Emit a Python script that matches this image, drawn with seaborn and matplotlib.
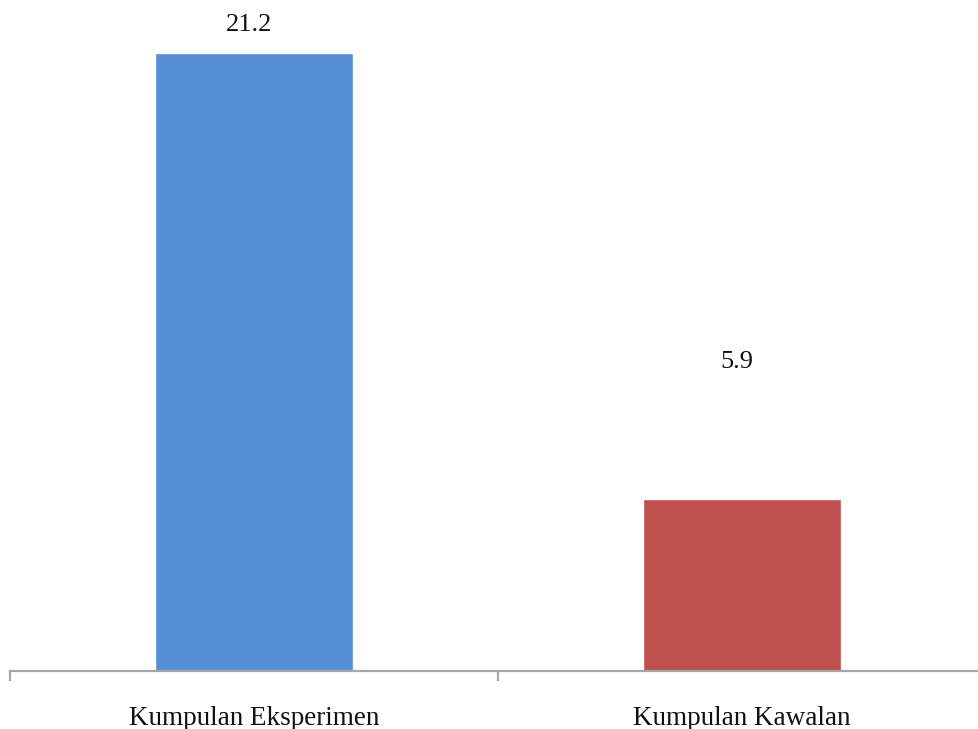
import matplotlib.pyplot as plt
import pandas as pd
import seaborn as sns

# chart data
groups = ["Kumpulan Eksperimen", "Kumpulan Kawalan"]
scores = [21.2, 5.9]
bar_colors = ["#558ED5", "#C0504D"]
# heights where the value labels sit
label_heights = [22.15, 10.6]

df = pd.DataFrame({"group": groups, "score": scores})

sns.set_theme(style="white")
plt.rcParams["font.family"] = ["Liberation Serif", "DejaVu Serif"]

fig = plt.figure(figsize=(9.79, 7.29), dpi=100)
ax = fig.add_axes([10 / 979, 58 / 729, 976 / 979, 671 / 729])

sns.barplot(data=df, x="group", y="score", hue="group", palette=bar_colors,
            width=0.405, saturation=1, legend=False, ax=ax)

for i, (val, h) in enumerate(zip(scores, label_heights)):
    ax.text(i - 0.01, h, f"{val:.1f}", ha="center", va="center",
            fontsize=19, color="#111111")

ax.set_xlim(-0.5, 1.5)
ax.set_ylim(0, 23.02)
ax.set_xlabel("")
ax.set_ylabel("")
ax.set_yticks([])

for side in ["left", "right", "top"]:
    ax.spines[side].set_visible(False)
ax.spines["bottom"].set_color("#A6A6A6")
ax.spines["bottom"].set_linewidth(1.6)

ax.set_xticks([-0.5, 0.5, 1.5], minor=True)
ax.tick_params(axis="x", which="minor", length=7, width=1.6, color="#A6A6A6",
               bottom=True)
ax.tick_params(axis="x", which="major", length=0, pad=25, labelsize=19.5,
               labelcolor="#111111")

fig.savefig("out.png", dpi=100)
